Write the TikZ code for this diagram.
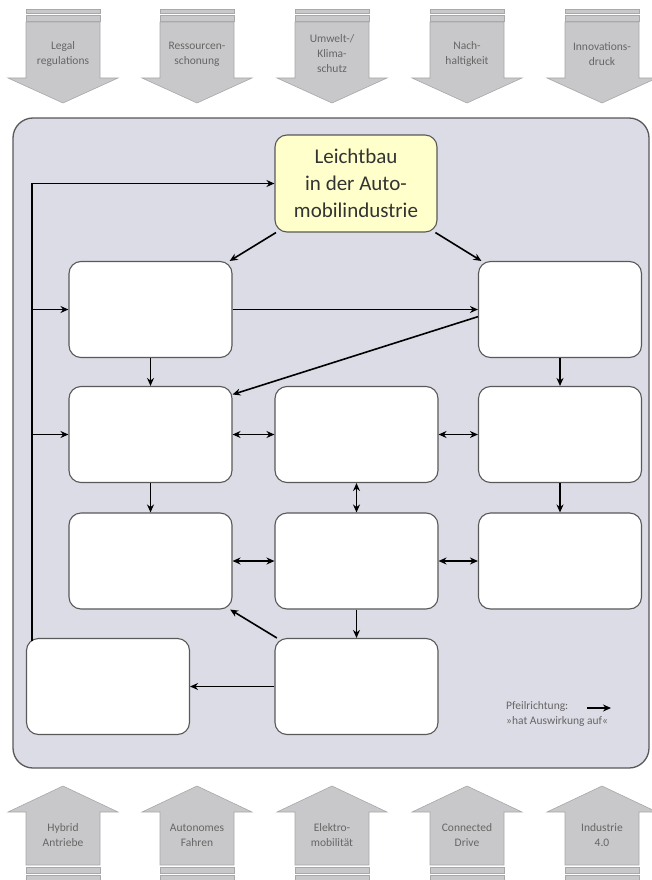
\documentclass[tikz,border=0pt]{standalone}
\usepackage{fontspec}
\setmainfont{Carlito}
\usetikzlibrary{arrows.meta,calc}
\definecolor{lav200}{HTML}{DCDCE6}
\definecolor{gray700}{HTML}{595959}
\definecolor{gray600}{HTML}{666666}
\definecolor{gray400}{HTML}{C8C8CA}
\definecolor{gray350}{HTML}{A8A8AA}
\definecolor{yellow100}{HTML}{FFFFCC}

\begin{document}
\begin{tikzpicture}[x=1pt,y=-1pt]
  % Styles
  \tikzset{
    frame/.style={draw=gray700, fill=lav200, rounded corners=20pt, line width=1.3pt},
    flow/.style={draw=gray350, fill=gray400, line width=0.6pt},
    flowtext/.style={align=center, text=gray600, font=\fontsize{11.5}{15}\selectfont},
    block/.style={draw=gray700, rounded corners=12pt, line width=1.1pt, fill=white, minimum width=163pt, minimum height=96pt, inner sep=0pt},
    core/.style={block, fill=yellow100, align=center, text=black!80, font=\fontsize{21}{27}\selectfont},
    legendtext/.style={align=left, text=gray600, font=\fontsize{11.5}{15}\selectfont},
    line/.style={-{Stealth[length=8pt,width=7pt]}, line width=1.6pt},
    biline/.style={{Stealth[length=8pt,width=7pt]}-{Stealth[length=8pt,width=7pt]}, line width=1.6pt},
  }
  \useasboundingbox (0,0) rectangle (651,880);

  % Background frame
  \draw[frame] (13,118) rectangle (649,768);

  % Influences (top)
  \foreach \c/\txt [count=\i] in {63/{Legal\\regulations}, 197/{Ressourcen-\\schonung}, 332/{Umwelt-/\\Klima-\\schutz}, 467/{Nach-\\haltigkeit}, 602/{Innovations-\\druck}} {
    \draw[flow] (\c-37,9) rectangle (\c+37,13);
    \draw[flow] (\c-37,15) rectangle (\c+37,21);
    \draw[flow] (\c-37,22) -- (\c+37,22) -- (\c+37,78) -- (\c+55,78) -- (\c,103) -- (\c-55,78) -- (\c-37,78) -- cycle;
    \node[flowtext] (in\i) at (\c,54) {\txt};
  }

  % Trends (bottom)
  \foreach \c/\txt [count=\i] in {63/{Hybrid\\Antriebe}, 197/{Autonomes\\Fahren}, 332/{Elektro-\\mobilität}, 467/{Connected\\Drive}, 602/{Industrie\\4.0}} {
    \draw[flow] (\c-37,865) -- (\c+37,865) -- (\c+37,812) -- (\c+55,812) -- (\c,786) -- (\c-55,812) -- (\c-37,812) -- cycle;
    \draw[flow] (\c-37,867) rectangle (\c+37,873);
    \draw[flow] (\c-37,875) rectangle (\c+37,880);
    \node[flowtext] (tr\i) at (\c,835) {\txt};
  }

  % Row 0
  \node[core, minimum height=97pt, minimum width=162pt] (leicht) at (356,183.5) {Leichtbau\\in der Auto-\\mobilindustrie};

  % Row 1
  \node[block] (l1) at (150.5,309.5) {};
  \node[block] (r1) at (560,309.5) {};

  % Row 2
  \node[block] (l2) at (150.5,434.5) {};
  \node[block] (m2) at (356.5,434.5) {};
  \node[block] (r2) at (560,434.5) {};

  % Row 3
  \node[block] (l3) at (150.5,561) {};
  \node[block] (m3) at (356.5,561) {};
  \node[block] (r3) at (560,561) {};

  % Row 4
  \node[block] (bl) at (108,686.5) {};
  \node[block] (m4) at (356.5,686.5) {};

  % Feedback line
  \coordinate (fb) at (32,641);
  \draw[line] (fb) |- (leicht);
  \draw[line] (fb |- l1) -- (l1);
  \draw[line] (fb |- l2) -- (l2);

  % Edges
  \draw[line] (leicht) -- (l1);
  \draw[line] (leicht) -- (r1);
  \draw[line] (l1) -- (r1);
  \draw[line] (r1.185) -- (l2.26);
  \draw[line] (l1) -- (l2);
  \draw[line] (r1) -- (r2);
  \draw[biline] (l2) -- (m2);
  \draw[biline] (m2) -- (r2);
  \draw[biline] (m2) -- (m3);
  \draw[line] (l2) -- (l3);
  \draw[line] (r2) -- (r3);
  \draw[biline] (l3) -- (m3);
  \draw[biline] (m3) -- (r3);
  \draw[line] (m3) -- (m4);
  \draw[line] (m4) -- (l3);
  \draw[line] (m4) -- (bl);

  % Legend
  \node[legendtext, anchor=north west, inner sep=0pt] (legend) at (506,701) {Pfeilrichtung:\\»hat Auswirkung auf«};
  \coordinate (lga) at (587,708);
  \coordinate (lgb) at (611,708);
  \draw[line] (lga) -- (lgb);
\end{tikzpicture}
\end{document}
